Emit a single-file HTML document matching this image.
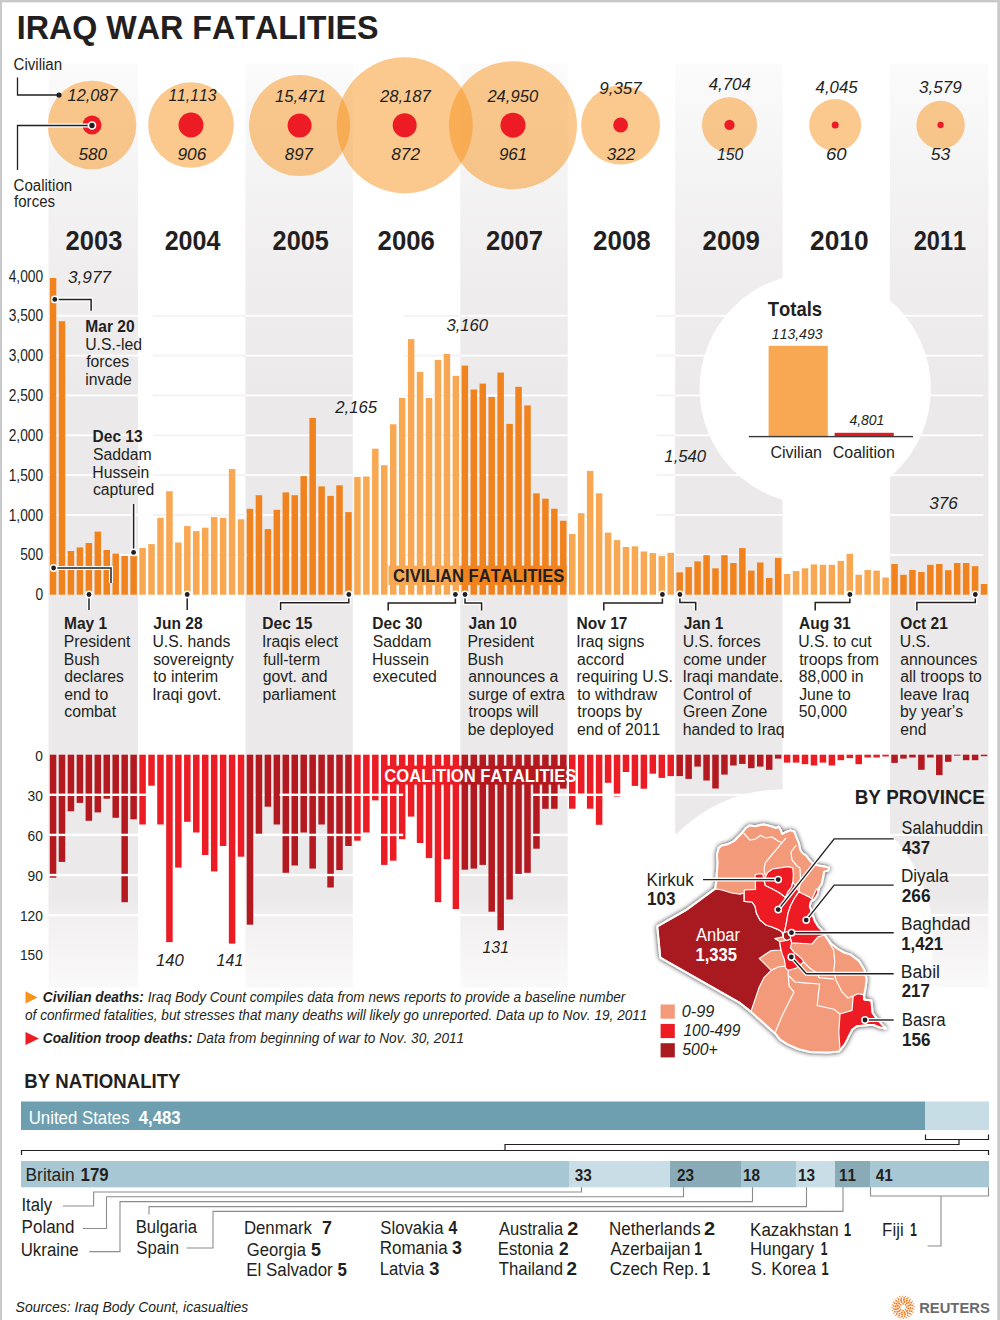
<!DOCTYPE html><html><head><meta charset="utf-8"><title>Iraq War Fatalities</title>
<style>html,body{margin:0;padding:0;background:#fff}svg{display:block}text{font-family:"Liberation Sans",sans-serif;font-kerning:none}</style></head><body>
<svg width="1000" height="1320" viewBox="0 0 1000 1320" fill="#231f20">
<defs><linearGradient id="sg" x1="0" y1="63" x2="0" y2="990" gradientUnits="userSpaceOnUse"><stop offset="0" stop-color="#fbfbfb"/><stop offset="0.2287" stop-color="#efedee"/><stop offset="0.37" stop-color="#ebe9ea"/><stop offset="0.9" stop-color="#ebe9ea"/><stop offset="0.925" stop-color="#f2f0f1"/><stop offset="1" stop-color="#fbfafb"/></linearGradient><filter id="mapsh" x="-20%" y="-20%" width="140%" height="140%"><feGaussianBlur in="SourceAlpha" stdDeviation="2.8"/><feComponentTransfer><feFuncA type="linear" slope="0.85"/></feComponentTransfer><feMerge><feMergeNode/><feMergeNode in="SourceGraphic"/></feMerge></filter></defs>
<rect x="0" y="0" width="1000" height="1320" fill="#fff"/>
<rect x="48.50" y="63.5" width="89.52" height="924" fill="url(#sg)"/>
<rect x="245.44" y="63.5" width="107.42" height="924" fill="url(#sg)"/>
<rect x="460.29" y="63.5" width="107.42" height="924" fill="url(#sg)"/>
<rect x="675.14" y="63.5" width="107.42" height="924" fill="url(#sg)"/>
<rect x="889.99" y="63.5" width="98.47" height="924" fill="url(#sg)"/>
<rect x="48.50" y="553.95" width="89.52" height="1.8" fill="#fff"/>
<rect x="245.44" y="553.95" width="107.42" height="1.8" fill="#fff"/>
<rect x="460.29" y="553.95" width="107.42" height="1.8" fill="#fff"/>
<rect x="675.14" y="553.95" width="107.42" height="1.8" fill="#fff"/>
<rect x="889.99" y="553.95" width="93.51" height="1.8" fill="#fff"/>
<rect x="48.50" y="514.10" width="89.52" height="1.8" fill="#fff"/>
<rect x="245.44" y="514.10" width="107.42" height="1.8" fill="#fff"/>
<rect x="460.29" y="514.10" width="107.42" height="1.8" fill="#fff"/>
<rect x="675.14" y="514.10" width="107.42" height="1.8" fill="#fff"/>
<rect x="889.99" y="514.10" width="93.51" height="1.8" fill="#fff"/>
<rect x="48.50" y="474.25" width="89.52" height="1.8" fill="#fff"/>
<rect x="245.44" y="474.25" width="107.42" height="1.8" fill="#fff"/>
<rect x="460.29" y="474.25" width="107.42" height="1.8" fill="#fff"/>
<rect x="675.14" y="474.25" width="107.42" height="1.8" fill="#fff"/>
<rect x="889.99" y="474.25" width="93.51" height="1.8" fill="#fff"/>
<rect x="48.50" y="434.40" width="89.52" height="1.8" fill="#fff"/>
<rect x="245.44" y="434.40" width="107.42" height="1.8" fill="#fff"/>
<rect x="460.29" y="434.40" width="107.42" height="1.8" fill="#fff"/>
<rect x="675.14" y="434.40" width="107.42" height="1.8" fill="#fff"/>
<rect x="889.99" y="434.40" width="93.51" height="1.8" fill="#fff"/>
<rect x="48.50" y="394.55" width="89.52" height="1.8" fill="#fff"/>
<rect x="245.44" y="394.55" width="107.42" height="1.8" fill="#fff"/>
<rect x="460.29" y="394.55" width="107.42" height="1.8" fill="#fff"/>
<rect x="675.14" y="394.55" width="107.42" height="1.8" fill="#fff"/>
<rect x="889.99" y="394.55" width="93.51" height="1.8" fill="#fff"/>
<rect x="48.50" y="354.70" width="89.52" height="1.8" fill="#fff"/>
<rect x="245.44" y="354.70" width="107.42" height="1.8" fill="#fff"/>
<rect x="460.29" y="354.70" width="107.42" height="1.8" fill="#fff"/>
<rect x="675.14" y="354.70" width="107.42" height="1.8" fill="#fff"/>
<rect x="889.99" y="354.70" width="93.51" height="1.8" fill="#fff"/>
<rect x="48.50" y="314.85" width="89.52" height="1.8" fill="#fff"/>
<rect x="245.44" y="314.85" width="107.42" height="1.8" fill="#fff"/>
<rect x="460.29" y="314.85" width="107.42" height="1.8" fill="#fff"/>
<rect x="675.14" y="314.85" width="107.42" height="1.8" fill="#fff"/>
<rect x="889.99" y="314.85" width="93.51" height="1.8" fill="#fff"/>
<rect x="152.8" y="554.05" width="92.60" height="1.6" fill="#f1f1f1"/>
<rect x="404" y="554.05" width="56.30" height="1.6" fill="#f1f1f1"/>
<rect x="656.5" y="554.05" width="18.60" height="1.6" fill="#f1f1f1"/>
<rect x="152.8" y="514.20" width="92.60" height="1.6" fill="#f1f1f1"/>
<rect x="404" y="514.20" width="56.30" height="1.6" fill="#f1f1f1"/>
<rect x="656.5" y="514.20" width="18.60" height="1.6" fill="#f1f1f1"/>
<rect x="152.8" y="474.35" width="92.60" height="1.6" fill="#f1f1f1"/>
<rect x="404" y="474.35" width="56.30" height="1.6" fill="#f1f1f1"/>
<rect x="656.5" y="474.35" width="18.60" height="1.6" fill="#f1f1f1"/>
<rect x="152.8" y="434.50" width="92.60" height="1.6" fill="#f1f1f1"/>
<rect x="404" y="434.50" width="56.30" height="1.6" fill="#f1f1f1"/>
<rect x="656.5" y="434.50" width="18.60" height="1.6" fill="#f1f1f1"/>
<rect x="152.8" y="394.65" width="92.60" height="1.6" fill="#f1f1f1"/>
<rect x="404" y="394.65" width="56.30" height="1.6" fill="#f1f1f1"/>
<rect x="656.5" y="394.65" width="18.60" height="1.6" fill="#f1f1f1"/>
<rect x="152.8" y="354.80" width="92.60" height="1.6" fill="#f1f1f1"/>
<rect x="404" y="354.80" width="56.30" height="1.6" fill="#f1f1f1"/>
<rect x="656.5" y="354.80" width="18.60" height="1.6" fill="#f1f1f1"/>
<rect x="152.8" y="314.95" width="92.60" height="1.6" fill="#f1f1f1"/>
<rect x="404" y="314.95" width="56.30" height="1.6" fill="#f1f1f1"/>
<rect x="656.5" y="314.95" width="18.60" height="1.6" fill="#f1f1f1"/>
<rect x="48.50" y="793.71" width="89.52" height="2.2" fill="#fff"/>
<rect x="254.20" y="793.71" width="98.67" height="2.2" fill="#fff"/>
<rect x="532.60" y="793.71" width="35.12" height="2.2" fill="#fff"/>
<rect x="675.14" y="793.71" width="107.42" height="2.2" fill="#fff"/>
<rect x="889.99" y="793.71" width="98.47" height="2.2" fill="#fff"/>
<rect x="48.50" y="833.82" width="89.52" height="2.2" fill="#fff"/>
<rect x="254.20" y="833.82" width="98.67" height="2.2" fill="#fff"/>
<rect x="532.60" y="833.82" width="35.12" height="2.2" fill="#fff"/>
<rect x="675.14" y="833.82" width="107.42" height="2.2" fill="#fff"/>
<rect x="889.99" y="833.82" width="98.47" height="2.2" fill="#fff"/>
<rect x="48.50" y="873.93" width="89.52" height="2.2" fill="#fff"/>
<rect x="254.20" y="873.93" width="98.67" height="2.2" fill="#fff"/>
<rect x="460.29" y="873.93" width="107.42" height="2.2" fill="#fff"/>
<rect x="675.14" y="873.93" width="107.42" height="2.2" fill="#fff"/>
<rect x="889.99" y="873.93" width="98.47" height="2.2" fill="#fff"/>
<rect x="48.50" y="914.04" width="89.52" height="2.2" fill="#fff"/>
<rect x="254.20" y="914.04" width="98.67" height="2.2" fill="#fff"/>
<rect x="460.29" y="914.04" width="107.42" height="2.2" fill="#fff"/>
<rect x="675.14" y="914.04" width="107.42" height="2.2" fill="#fff"/>
<rect x="889.99" y="914.04" width="98.47" height="2.2" fill="#fff"/>
<circle cx="783.4" cy="939" r="149.8" fill="#fff"/>
<circle cx="815.2" cy="388.8" r="115.7" fill="#fff"/>
<rect x="49.80" y="278.00" width="6.5" height="316.70" fill="#f1831f"/><rect x="58.75" y="321.20" width="6.5" height="273.50" fill="#f1831f"/><rect x="67.70" y="551.00" width="6.5" height="43.70" fill="#f1831f"/><rect x="76.66" y="547.40" width="6.5" height="47.30" fill="#f1831f"/><rect x="85.61" y="543.00" width="6.5" height="51.70" fill="#f1831f"/><rect x="94.56" y="531.60" width="6.5" height="63.10" fill="#f1831f"/><rect x="103.51" y="550.00" width="6.5" height="44.70" fill="#f1831f"/><rect x="112.46" y="553.60" width="6.5" height="41.10" fill="#f1831f"/><rect x="121.42" y="556.00" width="6.5" height="38.70" fill="#f1831f"/><rect x="130.37" y="555.70" width="6.5" height="39.00" fill="#f1831f"/><rect x="139.32" y="547.90" width="6.5" height="46.80" fill="#f8a752"/><rect x="148.27" y="544.10" width="6.5" height="50.60" fill="#f8a752"/><rect x="157.22" y="517.90" width="6.5" height="76.80" fill="#f8a752"/><rect x="166.18" y="491.20" width="6.5" height="103.50" fill="#f8a752"/><rect x="175.13" y="542.50" width="6.5" height="52.20" fill="#f8a752"/><rect x="184.08" y="526.10" width="6.5" height="68.60" fill="#f8a752"/><rect x="193.03" y="531.10" width="6.5" height="63.60" fill="#f8a752"/><rect x="201.98" y="527.70" width="6.5" height="67.00" fill="#f8a752"/><rect x="210.94" y="517.10" width="6.5" height="77.60" fill="#f8a752"/><rect x="219.89" y="517.90" width="6.5" height="76.80" fill="#f8a752"/><rect x="228.84" y="469.10" width="6.5" height="125.60" fill="#f8a752"/><rect x="237.79" y="519.30" width="6.5" height="75.40" fill="#f8a752"/><rect x="246.74" y="508.80" width="6.5" height="85.90" fill="#f1831f"/><rect x="255.70" y="495.20" width="6.5" height="99.50" fill="#f1831f"/><rect x="264.65" y="529.10" width="6.5" height="65.60" fill="#f1831f"/><rect x="273.60" y="509.80" width="6.5" height="84.90" fill="#f1831f"/><rect x="282.55" y="492.40" width="6.5" height="102.30" fill="#f1831f"/><rect x="291.50" y="495.20" width="6.5" height="99.50" fill="#f1831f"/><rect x="300.46" y="476.10" width="6.5" height="118.60" fill="#f1831f"/><rect x="309.41" y="417.90" width="6.5" height="176.80" fill="#f1831f"/><rect x="318.36" y="486.40" width="6.5" height="108.30" fill="#f1831f"/><rect x="327.31" y="495.90" width="6.5" height="98.80" fill="#f1831f"/><rect x="336.26" y="485.30" width="6.5" height="109.40" fill="#f1831f"/><rect x="345.22" y="512.10" width="6.5" height="82.60" fill="#f1831f"/><rect x="354.17" y="476.90" width="6.5" height="117.80" fill="#f8a752"/><rect x="363.12" y="476.50" width="6.5" height="118.20" fill="#f8a752"/><rect x="372.07" y="448.70" width="6.5" height="146.00" fill="#f8a752"/><rect x="381.02" y="465.20" width="6.5" height="129.50" fill="#f8a752"/><rect x="389.98" y="424.30" width="6.5" height="170.40" fill="#f8a752"/><rect x="398.93" y="398.00" width="6.5" height="196.70" fill="#f8a752"/><rect x="407.88" y="339.10" width="6.5" height="255.60" fill="#f8a752"/><rect x="416.83" y="371.90" width="6.5" height="222.80" fill="#f8a752"/><rect x="425.78" y="398.00" width="6.5" height="196.70" fill="#f8a752"/><rect x="434.74" y="359.90" width="6.5" height="234.80" fill="#f8a752"/><rect x="443.69" y="353.90" width="6.5" height="240.80" fill="#f8a752"/><rect x="452.64" y="375.80" width="6.5" height="218.90" fill="#f8a752"/><rect x="461.59" y="365.60" width="6.5" height="229.10" fill="#f1831f"/><rect x="470.54" y="389.50" width="6.5" height="205.20" fill="#f1831f"/><rect x="479.50" y="383.60" width="6.5" height="211.10" fill="#f1831f"/><rect x="488.45" y="397.00" width="6.5" height="197.70" fill="#f1831f"/><rect x="497.40" y="372.60" width="6.5" height="222.10" fill="#f1831f"/><rect x="506.35" y="423.90" width="6.5" height="170.80" fill="#f1831f"/><rect x="515.30" y="386.80" width="6.5" height="207.90" fill="#f1831f"/><rect x="524.26" y="405.40" width="6.5" height="189.30" fill="#f1831f"/><rect x="533.21" y="493.40" width="6.5" height="101.30" fill="#f1831f"/><rect x="542.16" y="498.70" width="6.5" height="96.00" fill="#f1831f"/><rect x="551.11" y="508.70" width="6.5" height="86.00" fill="#f1831f"/><rect x="560.06" y="520.80" width="6.5" height="73.90" fill="#f1831f"/><rect x="569.02" y="534.00" width="6.5" height="60.70" fill="#f8a752"/><rect x="577.97" y="513.20" width="6.5" height="81.50" fill="#f8a752"/><rect x="586.92" y="470.90" width="6.5" height="123.80" fill="#f8a752"/><rect x="595.87" y="493.30" width="6.5" height="101.40" fill="#f8a752"/><rect x="604.82" y="532.60" width="6.5" height="62.10" fill="#f8a752"/><rect x="613.78" y="540.10" width="6.5" height="54.60" fill="#f8a752"/><rect x="622.73" y="547.00" width="6.5" height="47.70" fill="#f8a752"/><rect x="631.68" y="546.30" width="6.5" height="48.40" fill="#f8a752"/><rect x="640.63" y="551.50" width="6.5" height="43.20" fill="#f8a752"/><rect x="649.58" y="553.10" width="6.5" height="41.60" fill="#f8a752"/><rect x="658.54" y="556.10" width="6.5" height="38.60" fill="#f8a752"/><rect x="667.49" y="552.80" width="6.5" height="41.90" fill="#f8a752"/><rect x="676.44" y="572.40" width="6.5" height="22.30" fill="#f1831f"/><rect x="685.39" y="567.10" width="6.5" height="27.60" fill="#f1831f"/><rect x="694.34" y="561.40" width="6.5" height="33.30" fill="#f1831f"/><rect x="703.30" y="555.20" width="6.5" height="39.50" fill="#f1831f"/><rect x="712.25" y="568.30" width="6.5" height="26.40" fill="#f1831f"/><rect x="721.20" y="555.20" width="6.5" height="39.50" fill="#f1831f"/><rect x="730.15" y="563.00" width="6.5" height="31.70" fill="#f1831f"/><rect x="739.10" y="548.10" width="6.5" height="46.60" fill="#f1831f"/><rect x="748.06" y="570.60" width="6.5" height="24.10" fill="#f1831f"/><rect x="757.01" y="562.50" width="6.5" height="32.20" fill="#f1831f"/><rect x="765.96" y="578.00" width="6.5" height="16.70" fill="#f1831f"/><rect x="774.91" y="557.90" width="6.5" height="36.80" fill="#f1831f"/><rect x="783.86" y="574.00" width="6.5" height="20.70" fill="#f8a752"/><rect x="792.82" y="571.10" width="6.5" height="23.60" fill="#f8a752"/><rect x="801.77" y="568.30" width="6.5" height="26.40" fill="#f8a752"/><rect x="810.72" y="564.40" width="6.5" height="30.30" fill="#f8a752"/><rect x="819.67" y="564.80" width="6.5" height="29.90" fill="#f8a752"/><rect x="828.62" y="564.80" width="6.5" height="29.90" fill="#f8a752"/><rect x="837.58" y="560.90" width="6.5" height="33.80" fill="#f8a752"/><rect x="846.53" y="553.80" width="6.5" height="40.90" fill="#f8a752"/><rect x="855.48" y="574.70" width="6.5" height="20.00" fill="#f8a752"/><rect x="864.43" y="569.90" width="6.5" height="24.80" fill="#f8a752"/><rect x="873.38" y="570.60" width="6.5" height="24.10" fill="#f8a752"/><rect x="882.34" y="577.50" width="6.5" height="17.20" fill="#f8a752"/><rect x="891.29" y="564.00" width="6.5" height="30.70" fill="#f1831f"/><rect x="900.24" y="574.80" width="6.5" height="19.90" fill="#f1831f"/><rect x="909.19" y="570.00" width="6.5" height="24.70" fill="#f1831f"/><rect x="918.14" y="572.00" width="6.5" height="22.70" fill="#f1831f"/><rect x="927.10" y="564.80" width="6.5" height="29.90" fill="#f1831f"/><rect x="936.05" y="564.00" width="6.5" height="30.70" fill="#f1831f"/><rect x="945.00" y="570.20" width="6.5" height="24.50" fill="#f1831f"/><rect x="953.95" y="563.00" width="6.5" height="31.70" fill="#f1831f"/><rect x="962.90" y="563.00" width="6.5" height="31.70" fill="#f1831f"/><rect x="971.86" y="566.20" width="6.5" height="28.50" fill="#f1831f"/><rect x="980.81" y="584.00" width="6.5" height="10.70" fill="#f1831f"/>
<rect x="388.50" y="565.6" width="71.89" height="19.4" fill="#f8a752"/>
<rect x="460.29" y="565.6" width="106.27" height="19.4" fill="#f1831f"/>
<text x="393.12" y="582.00" font-size="18.5" font-weight="bold" textLength="171.13" lengthAdjust="spacingAndGlyphs">CIVILIAN FATALITIES</text>
<rect x="49.80" y="754.70" width="6.5" height="123.00" fill="#b3191f"/><rect x="58.75" y="754.70" width="6.5" height="107.20" fill="#b3191f"/><rect x="67.70" y="754.70" width="6.5" height="56.60" fill="#b3191f"/><rect x="76.66" y="754.70" width="6.5" height="48.20" fill="#b3191f"/><rect x="85.61" y="754.70" width="6.5" height="66.10" fill="#b3191f"/><rect x="94.56" y="754.70" width="6.5" height="57.70" fill="#b3191f"/><rect x="103.51" y="754.70" width="6.5" height="44.00" fill="#b3191f"/><rect x="112.46" y="754.70" width="6.5" height="63.10" fill="#b3191f"/><rect x="121.42" y="754.70" width="6.5" height="147.50" fill="#b3191f"/><rect x="130.37" y="754.70" width="6.5" height="64.60" fill="#b3191f"/><rect x="139.32" y="754.70" width="6.5" height="69.80" fill="#ec1c24"/><rect x="148.27" y="754.70" width="6.5" height="31.00" fill="#ec1c24"/><rect x="157.22" y="754.70" width="6.5" height="69.80" fill="#ec1c24"/><rect x="166.18" y="754.70" width="6.5" height="187.40" fill="#ec1c24"/><rect x="175.13" y="754.70" width="6.5" height="112.90" fill="#ec1c24"/><rect x="184.08" y="754.70" width="6.5" height="67.10" fill="#ec1c24"/><rect x="193.03" y="754.70" width="6.5" height="77.80" fill="#ec1c24"/><rect x="201.98" y="754.70" width="6.5" height="100.30" fill="#ec1c24"/><rect x="210.94" y="754.70" width="6.5" height="116.70" fill="#ec1c24"/><rect x="219.89" y="754.70" width="6.5" height="91.30" fill="#ec1c24"/><rect x="228.84" y="754.70" width="6.5" height="188.90" fill="#ec1c24"/><rect x="237.79" y="754.70" width="6.5" height="102.00" fill="#ec1c24"/><rect x="246.74" y="754.70" width="6.5" height="170.00" fill="#b3191f"/><rect x="255.70" y="754.70" width="6.5" height="80.30" fill="#b3191f"/><rect x="264.65" y="754.70" width="6.5" height="52.00" fill="#b3191f"/><rect x="273.60" y="754.70" width="6.5" height="69.80" fill="#b3191f"/><rect x="282.55" y="754.70" width="6.5" height="118.10" fill="#b3191f"/><rect x="291.50" y="754.70" width="6.5" height="110.80" fill="#b3191f"/><rect x="300.46" y="754.70" width="6.5" height="77.80" fill="#b3191f"/><rect x="309.41" y="754.70" width="6.5" height="113.90" fill="#b3191f"/><rect x="318.36" y="754.70" width="6.5" height="69.80" fill="#b3191f"/><rect x="327.31" y="754.70" width="6.5" height="132.80" fill="#b3191f"/><rect x="336.26" y="754.70" width="6.5" height="115.40" fill="#b3191f"/><rect x="345.22" y="754.70" width="6.5" height="91.30" fill="#b3191f"/><rect x="354.17" y="754.70" width="6.5" height="86.00" fill="#ec1c24"/><rect x="363.12" y="754.70" width="6.5" height="77.80" fill="#ec1c24"/><rect x="372.07" y="754.70" width="6.5" height="45.70" fill="#ec1c24"/><rect x="381.02" y="754.70" width="6.5" height="110.20" fill="#ec1c24"/><rect x="389.98" y="754.70" width="6.5" height="106.00" fill="#ec1c24"/><rect x="398.93" y="754.70" width="6.5" height="84.50" fill="#ec1c24"/><rect x="407.88" y="754.70" width="6.5" height="61.90" fill="#ec1c24"/><rect x="416.83" y="754.70" width="6.5" height="88.30" fill="#ec1c24"/><rect x="425.78" y="754.70" width="6.5" height="103.40" fill="#ec1c24"/><rect x="434.74" y="754.70" width="6.5" height="147.50" fill="#ec1c24"/><rect x="443.69" y="754.70" width="6.5" height="104.50" fill="#ec1c24"/><rect x="452.64" y="754.70" width="6.5" height="154.30" fill="#ec1c24"/><rect x="461.59" y="754.70" width="6.5" height="115.00" fill="#b3191f"/><rect x="470.54" y="754.70" width="6.5" height="113.90" fill="#b3191f"/><rect x="479.50" y="754.70" width="6.5" height="110.20" fill="#b3191f"/><rect x="488.45" y="754.70" width="6.5" height="157.00" fill="#b3191f"/><rect x="497.40" y="754.70" width="6.5" height="175.50" fill="#b3191f"/><rect x="506.35" y="754.70" width="6.5" height="144.80" fill="#b3191f"/><rect x="515.30" y="754.70" width="6.5" height="119.20" fill="#b3191f"/><rect x="524.26" y="754.70" width="6.5" height="118.10" fill="#b3191f"/><rect x="533.21" y="754.70" width="6.5" height="94.00" fill="#b3191f"/><rect x="542.16" y="754.70" width="6.5" height="54.10" fill="#b3191f"/><rect x="551.11" y="754.70" width="6.5" height="54.10" fill="#b3191f"/><rect x="560.06" y="754.70" width="6.5" height="33.90" fill="#b3191f"/><rect x="569.02" y="754.70" width="6.5" height="54.00" fill="#ec1c24"/><rect x="577.97" y="754.70" width="6.5" height="39.00" fill="#ec1c24"/><rect x="586.92" y="754.70" width="6.5" height="54.00" fill="#ec1c24"/><rect x="595.87" y="754.70" width="6.5" height="70.10" fill="#ec1c24"/><rect x="604.82" y="754.70" width="6.5" height="28.10" fill="#ec1c24"/><rect x="613.78" y="754.70" width="6.5" height="41.80" fill="#ec1c24"/><rect x="622.73" y="754.70" width="6.5" height="17.30" fill="#ec1c24"/><rect x="631.68" y="754.70" width="6.5" height="31.20" fill="#ec1c24"/><rect x="640.63" y="754.70" width="6.5" height="34.00" fill="#ec1c24"/><rect x="649.58" y="754.70" width="6.5" height="19.00" fill="#ec1c24"/><rect x="658.54" y="754.70" width="6.5" height="23.20" fill="#ec1c24"/><rect x="667.49" y="754.70" width="6.5" height="21.40" fill="#ec1c24"/><rect x="676.44" y="754.70" width="6.5" height="21.40" fill="#b3191f"/><rect x="685.39" y="754.70" width="6.5" height="24.20" fill="#b3191f"/><rect x="694.34" y="754.70" width="6.5" height="11.90" fill="#b3191f"/><rect x="703.30" y="754.70" width="6.5" height="25.80" fill="#b3191f"/><rect x="712.25" y="754.70" width="6.5" height="33.80" fill="#b3191f"/><rect x="721.20" y="754.70" width="6.5" height="19.90" fill="#b3191f"/><rect x="730.15" y="754.70" width="6.5" height="10.80" fill="#b3191f"/><rect x="739.10" y="754.70" width="6.5" height="9.20" fill="#b3191f"/><rect x="748.06" y="754.70" width="6.5" height="13.50" fill="#b3191f"/><rect x="757.01" y="754.70" width="6.5" height="11.90" fill="#b3191f"/><rect x="765.96" y="754.70" width="6.5" height="15.10" fill="#b3191f"/><rect x="774.91" y="754.70" width="6.5" height="3.90" fill="#b3191f"/><rect x="783.86" y="754.70" width="6.5" height="7.90" fill="#ec1c24"/><rect x="792.82" y="754.70" width="6.5" height="7.90" fill="#ec1c24"/><rect x="801.77" y="754.70" width="6.5" height="9.50" fill="#ec1c24"/><rect x="810.72" y="754.70" width="6.5" height="10.80" fill="#ec1c24"/><rect x="819.67" y="754.70" width="6.5" height="7.90" fill="#ec1c24"/><rect x="828.62" y="754.70" width="6.5" height="10.80" fill="#ec1c24"/><rect x="837.58" y="754.70" width="6.5" height="5.50" fill="#ec1c24"/><rect x="846.53" y="754.70" width="6.5" height="3.40" fill="#ec1c24"/><rect x="855.48" y="754.70" width="6.5" height="9.50" fill="#ec1c24"/><rect x="864.43" y="754.70" width="6.5" height="2.80" fill="#ec1c24"/><rect x="873.38" y="754.70" width="6.5" height="2.80" fill="#ec1c24"/><rect x="882.34" y="754.70" width="6.5" height="1.80" fill="#ec1c24"/><rect x="891.29" y="754.70" width="6.5" height="8.20" fill="#b3191f"/><rect x="900.24" y="754.70" width="6.5" height="3.90" fill="#b3191f"/><rect x="909.19" y="754.70" width="6.5" height="2.80" fill="#b3191f"/><rect x="918.14" y="754.70" width="6.5" height="15.10" fill="#b3191f"/><rect x="927.10" y="754.70" width="6.5" height="2.80" fill="#b3191f"/><rect x="936.05" y="754.70" width="6.5" height="20.40" fill="#b3191f"/><rect x="945.00" y="754.70" width="6.5" height="7.10" fill="#b3191f"/><rect x="953.95" y="754.70" width="6.5" height="0.90" fill="#b3191f"/><rect x="962.90" y="754.70" width="6.5" height="5.50" fill="#b3191f"/><rect x="971.86" y="754.70" width="6.5" height="5.50" fill="#b3191f"/><rect x="980.81" y="754.70" width="6.5" height="1.50" fill="#b3191f"/>
<rect x="381.4" y="765.6" width="78.89" height="19" fill="#ec1c24"/>
<rect x="460.29" y="765.6" width="106.27" height="19" fill="#b3191f"/>
<text x="384.32" y="781.90" font-size="18" font-weight="bold" textLength="192.03" lengthAdjust="spacingAndGlyphs" fill="#fff">COALITION FATALITIES</text>
<rect x="48.50" y="793.61" width="98.00" height="2.4" fill="#fff"/>
<rect x="279.60" y="793.61" width="123.60" height="2.4" fill="#fff"/>
<rect x="532.60" y="793.61" width="88.90" height="2.4" fill="#fff"/>
<rect x="48.50" y="833.72" width="89.80" height="2.4" fill="#fff"/>
<rect x="254.20" y="833.72" width="149.00" height="2.4" fill="#fff"/>
<rect x="532.60" y="833.72" width="36.40" height="2.4" fill="#fff"/>
<rect x="48.50" y="873.83" width="89.80" height="2.4" fill="#fff"/>
<rect x="254.20" y="873.83" width="99.30" height="2.4" fill="#fff"/>
<rect x="48.50" y="913.94" width="89.80" height="2.4" fill="#fff"/>
<rect x="254.20" y="913.94" width="99.30" height="2.4" fill="#fff"/>
<text x="16.84" y="38.60" font-size="34" font-weight="bold" textLength="361.61" lengthAdjust="spacingAndGlyphs">IRAQ WAR FATALITIES</text>
<circle cx="92" cy="125" r="44.3" fill="#f7941d" fill-opacity="0.5"/>
<circle cx="191" cy="125" r="42.8" fill="#f7941d" fill-opacity="0.5"/>
<circle cx="299.6" cy="125.5" r="50.5" fill="#f7941d" fill-opacity="0.5"/>
<circle cx="404.7" cy="125.2" r="68" fill="#f7941d" fill-opacity="0.5"/>
<circle cx="513" cy="125.2" r="64" fill="#f7941d" fill-opacity="0.5"/>
<circle cx="620.6" cy="125" r="39.5" fill="#f7941d" fill-opacity="0.5"/>
<circle cx="729.5" cy="124.9" r="27.6" fill="#f7941d" fill-opacity="0.5"/>
<circle cx="835.2" cy="125" r="26" fill="#f7941d" fill-opacity="0.5"/>
<circle cx="940.6" cy="125" r="24.2" fill="#f7941d" fill-opacity="0.5"/>
<circle cx="92" cy="125" r="9.5" fill="#ed1c24"/>
<text x="67.58" y="101.30" font-size="16" font-style="italic" textLength="49.92" lengthAdjust="spacingAndGlyphs">12,087</text>
<text x="78.62" y="160.00" font-size="16" font-style="italic" textLength="28.53" lengthAdjust="spacingAndGlyphs">580</text>
<circle cx="191" cy="125" r="12.5" fill="#ed1c24"/>
<text x="168.39" y="101.30" font-size="16" font-style="italic" textLength="48.04" lengthAdjust="spacingAndGlyphs">11,113</text>
<text x="177.41" y="160.00" font-size="16" font-style="italic" textLength="28.89" lengthAdjust="spacingAndGlyphs">906</text>
<circle cx="299.6" cy="125.5" r="12.0" fill="#ed1c24"/>
<text x="275.07" y="101.80" font-size="16" font-style="italic" textLength="50.83" lengthAdjust="spacingAndGlyphs">15,471</text>
<text x="284.86" y="160.30" font-size="16" font-style="italic" textLength="27.93" lengthAdjust="spacingAndGlyphs">897</text>
<circle cx="404.7" cy="125.2" r="12.0" fill="#ed1c24"/>
<text x="379.90" y="101.80" font-size="16" font-style="italic" textLength="50.89" lengthAdjust="spacingAndGlyphs">28,187</text>
<text x="391.25" y="160.30" font-size="16" font-style="italic" textLength="28.71" lengthAdjust="spacingAndGlyphs">872</text>
<circle cx="513" cy="125.2" r="12.5" fill="#ed1c24"/>
<text x="487.40" y="101.80" font-size="16" font-style="italic" textLength="50.74" lengthAdjust="spacingAndGlyphs">24,950</text>
<text x="498.92" y="160.30" font-size="16" font-style="italic" textLength="28.31" lengthAdjust="spacingAndGlyphs">961</text>
<circle cx="620.6" cy="125" r="7.4" fill="#ed1c24"/>
<text x="599.32" y="94.30" font-size="16" font-style="italic" textLength="42.36" lengthAdjust="spacingAndGlyphs">9,357</text>
<text x="606.70" y="159.50" font-size="16" font-style="italic" textLength="28.55" lengthAdjust="spacingAndGlyphs">322</text>
<circle cx="729.5" cy="124.9" r="5.15" fill="#ed1c24"/>
<text x="708.69" y="90.30" font-size="16" font-style="italic" textLength="42.14" lengthAdjust="spacingAndGlyphs">4,704</text>
<text x="716.99" y="159.50" font-size="16" font-style="italic" textLength="26.14" lengthAdjust="spacingAndGlyphs">150</text>
<circle cx="835.2" cy="125" r="3.5" fill="#ed1c24"/>
<text x="815.59" y="92.80" font-size="16" font-style="italic" textLength="42.07" lengthAdjust="spacingAndGlyphs">4,045</text>
<text x="825.96" y="159.80" font-size="16" font-style="italic" textLength="20.59" lengthAdjust="spacingAndGlyphs">60</text>
<circle cx="940.6" cy="125" r="3.15" fill="#ed1c24"/>
<text x="919.00" y="92.80" font-size="16" font-style="italic" textLength="42.75" lengthAdjust="spacingAndGlyphs">3,579</text>
<text x="930.81" y="159.80" font-size="16" font-style="italic" textLength="19.45" lengthAdjust="spacingAndGlyphs">53</text>
<path d="M17.5 77.5 V95 H59" fill="none" stroke="#231f20" stroke-width="1.3"/>
<circle cx="59" cy="95" r="2.6" fill="#231f20"/>
<path d="M17.5 170 V125.5 H92" fill="none" stroke="#fff" stroke-width="4"/>
<path d="M17.5 170 V125.5 H92" fill="none" stroke="#231f20" stroke-width="1.3"/>
<circle cx="92" cy="125.5" r="4.3" fill="#fff"/><circle cx="92" cy="125.5" r="2.7" fill="#231f20"/>
<text x="13.53" y="70.20" font-size="16" textLength="48.65" lengthAdjust="spacingAndGlyphs">Civilian</text>
<text x="13.53" y="190.50" font-size="16" textLength="58.64" lengthAdjust="spacingAndGlyphs">Coalition</text>
<text x="14.09" y="207.20" font-size="16" textLength="40.96" lengthAdjust="spacingAndGlyphs">forces</text>
<text x="65.62" y="250.30" font-size="28" font-weight="bold" textLength="56.70" lengthAdjust="spacingAndGlyphs">2003</text>
<text x="164.63" y="250.30" font-size="28" font-weight="bold" textLength="55.91" lengthAdjust="spacingAndGlyphs">2004</text>
<text x="272.62" y="250.30" font-size="28" font-weight="bold" textLength="56.18" lengthAdjust="spacingAndGlyphs">2005</text>
<text x="377.61" y="250.30" font-size="28" font-weight="bold" textLength="57.32" lengthAdjust="spacingAndGlyphs">2006</text>
<text x="486.11" y="250.30" font-size="28" font-weight="bold" textLength="57.01" lengthAdjust="spacingAndGlyphs">2007</text>
<text x="593.10" y="250.30" font-size="28" font-weight="bold" textLength="57.70" lengthAdjust="spacingAndGlyphs">2008</text>
<text x="702.61" y="250.30" font-size="28" font-weight="bold" textLength="57.35" lengthAdjust="spacingAndGlyphs">2009</text>
<text x="810.09" y="250.30" font-size="28" font-weight="bold" textLength="58.49" lengthAdjust="spacingAndGlyphs">2010</text>
<text x="913.68" y="250.30" font-size="28" font-weight="bold" textLength="52.47" lengthAdjust="spacingAndGlyphs">2011</text>
<text x="35.48" y="600.30" font-size="16" textLength="7.65" lengthAdjust="spacingAndGlyphs">0</text>
<text x="20.18" y="560.45" font-size="16" textLength="22.96" lengthAdjust="spacingAndGlyphs">500</text>
<text x="8.70" y="520.60" font-size="16" textLength="34.43" lengthAdjust="spacingAndGlyphs">1,000</text>
<text x="8.70" y="480.75" font-size="16" textLength="34.43" lengthAdjust="spacingAndGlyphs">1,500</text>
<text x="8.70" y="440.90" font-size="16" textLength="34.43" lengthAdjust="spacingAndGlyphs">2,000</text>
<text x="8.70" y="401.05" font-size="16" textLength="34.43" lengthAdjust="spacingAndGlyphs">2,500</text>
<text x="8.70" y="361.20" font-size="16" textLength="34.43" lengthAdjust="spacingAndGlyphs">3,000</text>
<text x="8.70" y="321.35" font-size="16" textLength="34.43" lengthAdjust="spacingAndGlyphs">3,500</text>
<text x="8.70" y="281.50" font-size="16" textLength="34.43" lengthAdjust="spacingAndGlyphs">4,000</text>
<text x="35.28" y="760.90" font-size="15.3" textLength="7.66" lengthAdjust="spacingAndGlyphs">0</text>
<text x="27.62" y="801.00" font-size="15.3" textLength="15.32" lengthAdjust="spacingAndGlyphs">30</text>
<text x="27.62" y="841.20" font-size="15.3" textLength="15.32" lengthAdjust="spacingAndGlyphs">60</text>
<text x="27.62" y="881.40" font-size="15.3" textLength="15.32" lengthAdjust="spacingAndGlyphs">90</text>
<text x="19.96" y="921.20" font-size="15.3" textLength="22.97" lengthAdjust="spacingAndGlyphs">120</text>
<text x="19.96" y="960.10" font-size="15.3" textLength="22.97" lengthAdjust="spacingAndGlyphs">150</text>
<text x="68.00" y="282.70" font-size="16" font-style="italic" textLength="43.07" lengthAdjust="spacingAndGlyphs">3,977</text>
<text x="335.30" y="412.80" font-size="16" font-style="italic" textLength="41.86" lengthAdjust="spacingAndGlyphs">2,165</text>
<text x="446.41" y="331.20" font-size="16" font-style="italic" textLength="41.73" lengthAdjust="spacingAndGlyphs">3,160</text>
<text x="664.37" y="462.00" font-size="16" font-style="italic" textLength="41.77" lengthAdjust="spacingAndGlyphs">1,540</text>
<text x="929.20" y="509.00" font-size="16" font-style="italic" textLength="28.60" lengthAdjust="spacingAndGlyphs">376</text>
<path d="M54.8 299.4 H91.1 V310.7" fill="none" stroke="#fff" stroke-width="4.1" stroke-linejoin="miter"/><path d="M54.8 299.4 H91.1 V310.7" fill="none" stroke="#231f20" stroke-width="1.5"/><circle cx="54.8" cy="299.4" r="3.9" fill="#fff"/><circle cx="54.8" cy="299.4" r="2.4" fill="#231f20"/>
<text x="85.36" y="332.30" font-size="16" font-weight="bold" textLength="49.17" lengthAdjust="spacingAndGlyphs">Mar 20</text><text x="85.18" y="349.75" font-size="16" textLength="56.93" lengthAdjust="spacingAndGlyphs">U.S.-led</text><text x="86.18" y="367.20" font-size="16" textLength="42.92" lengthAdjust="spacingAndGlyphs">forces</text><text x="85.35" y="384.65" font-size="16" textLength="46.44" lengthAdjust="spacingAndGlyphs">invade</text>
<path d="M53.6 568 H111 V583" fill="none" stroke="#fff" stroke-width="4.1" stroke-linejoin="miter"/><path d="M53.6 568 H111 V583" fill="none" stroke="#231f20" stroke-width="1.5"/><circle cx="53.6" cy="568" r="3.9" fill="#fff"/><circle cx="53.6" cy="568" r="2.4" fill="#231f20"/>
<path d="M133.6 504 V552.4" fill="none" stroke="#fff" stroke-width="4.1" stroke-linejoin="miter"/><path d="M133.6 504 V552.4" fill="none" stroke="#231f20" stroke-width="1.5"/><circle cx="133.6" cy="552.4" r="3.9" fill="#fff"/><circle cx="133.6" cy="552.4" r="2.4" fill="#231f20"/>
<text x="92.56" y="442.20" font-size="16" font-weight="bold" textLength="50.05" lengthAdjust="spacingAndGlyphs">Dec 13</text><text x="92.88" y="459.85" font-size="16" textLength="58.70" lengthAdjust="spacingAndGlyphs">Saddam</text><text x="92.31" y="477.50" font-size="16" textLength="56.94" lengthAdjust="spacingAndGlyphs">Hussein</text><text x="92.93" y="495.15" font-size="16" textLength="61.33" lengthAdjust="spacingAndGlyphs">captured</text>
<path d="M89 594.5 V610" fill="none" stroke="#fff" stroke-width="4.1" stroke-linejoin="miter"/><path d="M89 594.5 V610" fill="none" stroke="#231f20" stroke-width="1.5"/><circle cx="89" cy="594.5" r="3.9" fill="#fff"/><circle cx="89" cy="594.5" r="2.4" fill="#231f20"/>
<text x="63.96" y="629.40" font-size="16" font-weight="bold" textLength="43.13" lengthAdjust="spacingAndGlyphs">May 1</text><text x="63.71" y="647.00" font-size="16" textLength="66.58" lengthAdjust="spacingAndGlyphs">President</text><text x="63.71" y="664.60" font-size="16" textLength="35.92" lengthAdjust="spacingAndGlyphs">Bush</text><text x="64.34" y="682.20" font-size="16" textLength="59.57" lengthAdjust="spacingAndGlyphs">declares</text><text x="64.33" y="699.80" font-size="16" textLength="43.82" lengthAdjust="spacingAndGlyphs">end to</text><text x="64.33" y="717.40" font-size="16" textLength="51.68" lengthAdjust="spacingAndGlyphs">combat</text>
<path d="M187.2 594.5 V610" fill="none" stroke="#fff" stroke-width="4.1" stroke-linejoin="miter"/><path d="M187.2 594.5 V610" fill="none" stroke="#231f20" stroke-width="1.5"/><circle cx="187.2" cy="594.5" r="3.9" fill="#fff"/><circle cx="187.2" cy="594.5" r="2.4" fill="#231f20"/>
<text x="153.37" y="629.40" font-size="16" font-weight="bold" textLength="49.17" lengthAdjust="spacingAndGlyphs">Jun 28</text><text x="152.38" y="647.00" font-size="16" textLength="77.97" lengthAdjust="spacingAndGlyphs">U.S. hands</text><text x="153.16" y="664.60" font-size="16" textLength="80.59" lengthAdjust="spacingAndGlyphs">sovereignty</text><text x="153.36" y="682.20" font-size="16" textLength="64.81" lengthAdjust="spacingAndGlyphs">to interim</text><text x="152.15" y="699.80" font-size="16" textLength="69.20" lengthAdjust="spacingAndGlyphs">Iraqi govt.</text>
<path d="M348.8 594.5 V602.8 H280.6 V610" fill="none" stroke="#fff" stroke-width="4.1" stroke-linejoin="miter"/><path d="M348.8 594.5 V602.8 H280.6 V610" fill="none" stroke="#231f20" stroke-width="1.5"/><circle cx="348.8" cy="594.5" r="3.9" fill="#fff"/><circle cx="348.8" cy="594.5" r="2.4" fill="#231f20"/>
<text x="262.36" y="629.40" font-size="16" font-weight="bold" textLength="50.05" lengthAdjust="spacingAndGlyphs">Dec 15</text><text x="261.95" y="647.00" font-size="16" textLength="76.21" lengthAdjust="spacingAndGlyphs">Iraqis elect</text><text x="263.18" y="664.60" font-size="16" textLength="56.91" lengthAdjust="spacingAndGlyphs">full-term</text><text x="262.74" y="682.20" font-size="16" textLength="64.84" lengthAdjust="spacingAndGlyphs">govt. and</text><text x="262.38" y="699.80" font-size="16" textLength="73.58" lengthAdjust="spacingAndGlyphs">parliament</text>
<path d="M455.4 594.5 V603 H388.2 V610.4" fill="none" stroke="#fff" stroke-width="4.1" stroke-linejoin="miter"/><path d="M455.4 594.5 V603 H388.2 V610.4" fill="none" stroke="#231f20" stroke-width="1.5"/><circle cx="455.4" cy="594.5" r="3.9" fill="#fff"/><circle cx="455.4" cy="594.5" r="2.4" fill="#231f20"/>
<text x="372.36" y="629.40" font-size="16" font-weight="bold" textLength="50.05" lengthAdjust="spacingAndGlyphs">Dec 30</text><text x="372.68" y="647.00" font-size="16" textLength="58.70" lengthAdjust="spacingAndGlyphs">Saddam</text><text x="372.11" y="664.60" font-size="16" textLength="56.94" lengthAdjust="spacingAndGlyphs">Hussein</text><text x="372.73" y="682.20" font-size="16" textLength="63.96" lengthAdjust="spacingAndGlyphs">executed</text>
<path d="M465 594.5 V603 H481.6 V610.4" fill="none" stroke="#fff" stroke-width="4.1" stroke-linejoin="miter"/><path d="M465 594.5 V603 H481.6 V610.4" fill="none" stroke="#231f20" stroke-width="1.5"/><circle cx="465" cy="594.5" r="3.9" fill="#fff"/><circle cx="465" cy="594.5" r="2.4" fill="#231f20"/>
<text x="468.57" y="629.40" font-size="16" font-weight="bold" textLength="48.32" lengthAdjust="spacingAndGlyphs">Jan 10</text><text x="467.51" y="647.00" font-size="16" textLength="66.58" lengthAdjust="spacingAndGlyphs">President</text><text x="467.51" y="664.60" font-size="16" textLength="35.92" lengthAdjust="spacingAndGlyphs">Bush</text><text x="468.13" y="682.20" font-size="16" textLength="90.26" lengthAdjust="spacingAndGlyphs">announces a</text><text x="468.36" y="699.80" font-size="16" textLength="96.36" lengthAdjust="spacingAndGlyphs">surge of extra</text><text x="468.56" y="717.40" font-size="16" textLength="70.07" lengthAdjust="spacingAndGlyphs">troops will</text><text x="467.78" y="735.00" font-size="16" textLength="85.88" lengthAdjust="spacingAndGlyphs">be deployed</text>
<path d="M662.4 594.5 V603 H603.8 V610.4" fill="none" stroke="#fff" stroke-width="4.1" stroke-linejoin="miter"/><path d="M662.4 594.5 V603 H603.8 V610.4" fill="none" stroke="#231f20" stroke-width="1.5"/><circle cx="662.4" cy="594.5" r="3.9" fill="#fff"/><circle cx="662.4" cy="594.5" r="2.4" fill="#231f20"/>
<text x="576.56" y="629.40" font-size="16" font-weight="bold" textLength="50.89" lengthAdjust="spacingAndGlyphs">Nov 17</text><text x="576.15" y="647.00" font-size="16" textLength="68.33" lengthAdjust="spacingAndGlyphs">Iraq signs</text><text x="576.93" y="664.60" font-size="16" textLength="47.30" lengthAdjust="spacingAndGlyphs">accord</text><text x="576.55" y="682.20" font-size="16" textLength="96.35" lengthAdjust="spacingAndGlyphs">requiring U.S.</text><text x="577.36" y="699.80" font-size="16" textLength="79.71" lengthAdjust="spacingAndGlyphs">to withdraw</text><text x="577.36" y="717.40" font-size="16" textLength="64.83" lengthAdjust="spacingAndGlyphs">troops by</text><text x="576.93" y="735.00" font-size="16" textLength="83.26" lengthAdjust="spacingAndGlyphs">end of 2011</text>
<path d="M679.9 594.5 V602.4 H695.7 V610.4" fill="none" stroke="#fff" stroke-width="4.1" stroke-linejoin="miter"/><path d="M679.9 594.5 V602.4 H695.7 V610.4" fill="none" stroke="#231f20" stroke-width="1.5"/><circle cx="679.9" cy="594.5" r="3.9" fill="#fff"/><circle cx="679.9" cy="594.5" r="2.4" fill="#231f20"/>
<text x="683.67" y="629.40" font-size="16" font-weight="bold" textLength="39.69" lengthAdjust="spacingAndGlyphs">Jan 1</text><text x="682.68" y="647.00" font-size="16" textLength="77.95" lengthAdjust="spacingAndGlyphs">U.S. forces</text><text x="683.23" y="664.60" font-size="16" textLength="83.22" lengthAdjust="spacingAndGlyphs">come under</text><text x="682.45" y="682.20" font-size="16" textLength="100.75" lengthAdjust="spacingAndGlyphs">Iraqi mandate.</text><text x="683.10" y="699.80" font-size="16" textLength="68.33" lengthAdjust="spacingAndGlyphs">Control of</text><text x="683.11" y="717.40" font-size="16" textLength="84.10" lengthAdjust="spacingAndGlyphs">Green Zone</text><text x="682.81" y="735.00" font-size="16" textLength="101.65" lengthAdjust="spacingAndGlyphs">handed to Iraq</text>
<path d="M849.9 594.5 V602.4 H815.2 V610.4" fill="none" stroke="#fff" stroke-width="4.1" stroke-linejoin="miter"/><path d="M849.9 594.5 V602.4 H815.2 V610.4" fill="none" stroke="#231f20" stroke-width="1.5"/><circle cx="849.9" cy="594.5" r="3.9" fill="#fff"/><circle cx="849.9" cy="594.5" r="2.4" fill="#231f20"/>
<text x="799.01" y="629.40" font-size="16" font-weight="bold" textLength="51.74" lengthAdjust="spacingAndGlyphs">Aug 31</text><text x="798.18" y="647.00" font-size="16" textLength="73.57" lengthAdjust="spacingAndGlyphs">U.S. to cut</text><text x="799.16" y="664.60" font-size="16" textLength="79.70" lengthAdjust="spacingAndGlyphs">troops from</text><text x="798.72" y="682.20" font-size="16" textLength="64.85" lengthAdjust="spacingAndGlyphs">88,000 in</text><text x="799.15" y="699.80" font-size="16" textLength="51.70" lengthAdjust="spacingAndGlyphs">June to</text><text x="798.77" y="717.40" font-size="16" textLength="48.20" lengthAdjust="spacingAndGlyphs">50,000</text>
<path d="M975.3 594.5 V602.4 H916.9 V610.4" fill="none" stroke="#fff" stroke-width="4.1" stroke-linejoin="miter"/><path d="M975.3 594.5 V602.4 H916.9 V610.4" fill="none" stroke="#231f20" stroke-width="1.5"/><circle cx="975.3" cy="594.5" r="3.9" fill="#fff"/><circle cx="975.3" cy="594.5" r="2.4" fill="#231f20"/>
<text x="900.36" y="629.40" font-size="16" font-weight="bold" textLength="47.45" lengthAdjust="spacingAndGlyphs">Oct 21</text><text x="899.78" y="647.00" font-size="16" textLength="30.65" lengthAdjust="spacingAndGlyphs">U.S.</text><text x="900.33" y="664.60" font-size="16" textLength="77.11" lengthAdjust="spacingAndGlyphs">announces</text><text x="900.33" y="682.20" font-size="16" textLength="81.47" lengthAdjust="spacingAndGlyphs">all troops to</text><text x="899.94" y="699.80" font-size="16" textLength="69.21" lengthAdjust="spacingAndGlyphs">leave Iraq</text><text x="899.98" y="717.40" font-size="16" textLength="63.06" lengthAdjust="spacingAndGlyphs">by year’s</text><text x="900.33" y="735.00" font-size="16" textLength="26.29" lengthAdjust="spacingAndGlyphs">end</text>
<text x="155.97" y="966.30" font-size="16" font-style="italic" textLength="27.77" lengthAdjust="spacingAndGlyphs">140</text>
<text x="216.58" y="966.00" font-size="16" font-style="italic">141</text>
<text x="482.59" y="953.30" font-size="16" font-style="italic" textLength="26.34" lengthAdjust="spacingAndGlyphs">131</text>
<text x="767.79" y="316.00" font-size="21" font-weight="bold" textLength="54.36" lengthAdjust="spacingAndGlyphs">Totals</text>
<text x="771.84" y="339.40" font-size="15" font-style="italic" textLength="50.69" lengthAdjust="spacingAndGlyphs">113,493</text>
<rect x="768.6" y="345.8" width="59.2" height="90.4" fill="#f8a752"/>
<rect x="834.6" y="432.8" width="59.2" height="3.6" fill="#e31b23"/>
<rect x="748.8" y="435.9" width="164.2" height="1.4" fill="#3a3a3a"/>
<text x="849.51" y="425.40" font-size="15" font-style="italic" textLength="34.87" lengthAdjust="spacingAndGlyphs">4,801</text>
<text x="770.39" y="457.80" font-size="16">Civilian</text>
<text x="832.79" y="457.80" font-size="16" textLength="62.05" lengthAdjust="spacingAndGlyphs">Coalition</text>
<path d="M25.5 991.3 L37.6 997.4 L25.5 1003.5 Z" fill="#f7941d"/>
<path d="M25.5 1032 L39 1038.5 L25.5 1045 Z" fill="#ed1c24"/>
<text x="42.83" y="1001.50" font-size="15" font-weight="bold" font-style="italic" textLength="101.10" lengthAdjust="spacingAndGlyphs">Civilian deaths:</text>
<text x="147.80" y="1001.50" font-size="15" font-style="italic" textLength="477.54" lengthAdjust="spacingAndGlyphs">Iraq Body Count compiles data from news reports to provide a baseline number</text>
<text x="25.05" y="1019.60" font-size="15" font-style="italic" textLength="622.40" lengthAdjust="spacingAndGlyphs">of confirmed fatalities, but stresses that many deaths will likely go unreported. Data up to Nov. 19, 2011</text>
<text x="42.83" y="1043.30" font-size="15" font-weight="bold" font-style="italic" textLength="149.71" lengthAdjust="spacingAndGlyphs">Coalition troop deaths:</text>
<text x="196.53" y="1043.30" font-size="15" font-style="italic" textLength="267.62" lengthAdjust="spacingAndGlyphs">Data from beginning of war to Nov. 30, 2011</text>
<text x="24.25" y="1087.80" font-size="20.5" font-weight="bold" textLength="156.25" lengthAdjust="spacingAndGlyphs">BY NATIONALITY</text>
<rect x="21" y="1101.5" width="904" height="28.5" fill="#6d9fb0"/>
<rect x="925" y="1101.5" width="64" height="28.5" fill="#c7dde6"/>
<text x="28.70" y="1124.00" font-size="18" textLength="100.90" lengthAdjust="spacingAndGlyphs" fill="#fff">United States</text>
<text x="138.75" y="1124.00" font-size="18" font-weight="bold" textLength="41.86" lengthAdjust="spacingAndGlyphs" fill="#fff">4,483</text>
<path d="M925.5 1134.5 V1139.5 H988.5 V1134.5 M959 1139.5 V1144.5 H505 V1150.5 M21.5 1155 V1150.5 H988.5 V1155" fill="none" stroke="#231f20" stroke-width="1.2"/>
<rect x="21" y="1161" width="548" height="26.3" fill="#a8c7d4"/>
<rect x="569" y="1161" width="101" height="26.3" fill="#c8dde6"/>
<rect x="670" y="1161" width="71" height="26.3" fill="#89abb8"/>
<rect x="741" y="1161" width="55" height="26.3" fill="#a8c7d4"/>
<rect x="796" y="1161" width="39" height="26.3" fill="#c8dde6"/>
<rect x="835" y="1161" width="35" height="26.3" fill="#89abb8"/>
<rect x="870" y="1161" width="119" height="26.3" fill="#a8c7d4"/>
<text x="25.58" y="1181.40" font-size="18" textLength="49.04" lengthAdjust="spacingAndGlyphs">Britain</text>
<text x="80.54" y="1181.40" font-size="18" font-weight="bold" textLength="28.08" lengthAdjust="spacingAndGlyphs">179</text>
<text x="574.65" y="1181.40" font-size="17" font-weight="bold" textLength="17.02" lengthAdjust="spacingAndGlyphs">33</text>
<text x="676.97" y="1181.40" font-size="17" font-weight="bold" textLength="17.02" lengthAdjust="spacingAndGlyphs">23</text>
<text x="743.04" y="1181.40" font-size="17" font-weight="bold" textLength="17.02" lengthAdjust="spacingAndGlyphs">18</text>
<text x="798.04" y="1181.40" font-size="17" font-weight="bold" textLength="17.02" lengthAdjust="spacingAndGlyphs">13</text>
<text x="839.04" y="1181.40" font-size="17" font-weight="bold" textLength="17.02" lengthAdjust="spacingAndGlyphs">11</text>
<text x="875.77" y="1181.40" font-size="17" font-weight="bold" textLength="17.02" lengthAdjust="spacingAndGlyphs">41</text>
<path d="M63 1206 H93.6 V1192 H581.5 V1187.3 M83 1228.5 H106.5 V1196.8 H683.5 V1187.3 M89.4 1251.6 H120 V1201.6 H752.5 V1187.3 M149 1214.4 V1206.6 H806.5 V1187.3 M186.6 1248 H213 V1211.4 H843 V1187.3 M870.5 1187.3 V1196 H988.5 V1187.3 M941 1196 V1246 H927.5" fill="none" stroke="#8c8c8c" stroke-width="1.1"/>
<text x="21.46" y="1210.60" font-size="18" textLength="30.57" lengthAdjust="spacingAndGlyphs">Italy</text>
<text x="21.61" y="1233.40" font-size="18" textLength="52.89" lengthAdjust="spacingAndGlyphs">Poland</text>
<text x="20.70" y="1256.00" font-size="18" textLength="58.05" lengthAdjust="spacingAndGlyphs">Ukraine</text>
<text x="135.63" y="1233.40" font-size="18" textLength="61.37" lengthAdjust="spacingAndGlyphs">Bulgaria</text>
<text x="136.24" y="1254.00" font-size="18" textLength="42.85" lengthAdjust="spacingAndGlyphs">Spain</text>
<text x="243.92" y="1234.20" font-size="18" textLength="68.05" lengthAdjust="spacingAndGlyphs">Denmark</text>
<text x="322.03" y="1234.20" font-size="18" font-weight="bold" textLength="9.96" lengthAdjust="spacingAndGlyphs">7</text>
<text x="246.86" y="1255.80" font-size="18" textLength="59.14" lengthAdjust="spacingAndGlyphs">Georgia</text>
<text x="310.95" y="1255.80" font-size="18" font-weight="bold" textLength="9.95" lengthAdjust="spacingAndGlyphs">5</text>
<text x="246.31" y="1276.20" font-size="18" textLength="86.37" lengthAdjust="spacingAndGlyphs">El Salvador</text>
<text x="337.38" y="1276.20" font-size="18" font-weight="bold" textLength="9.39" lengthAdjust="spacingAndGlyphs">5</text>
<text x="380.34" y="1234.20" font-size="18" textLength="63.16" lengthAdjust="spacingAndGlyphs">Slovakia</text>
<text x="448.56" y="1234.20" font-size="18" font-weight="bold" textLength="8.72" lengthAdjust="spacingAndGlyphs">4</text>
<text x="379.71" y="1254.10" font-size="18" textLength="67.89" lengthAdjust="spacingAndGlyphs">Romania</text>
<text x="451.99" y="1254.10" font-size="18" font-weight="bold" textLength="9.96" lengthAdjust="spacingAndGlyphs">3</text>
<text x="379.73" y="1275.00" font-size="18" textLength="44.57" lengthAdjust="spacingAndGlyphs">Latvia</text>
<text x="429.18" y="1275.00" font-size="18" font-weight="bold" textLength="10.18" lengthAdjust="spacingAndGlyphs">3</text>
<text x="499.07" y="1235.40" font-size="18" textLength="64.13" lengthAdjust="spacingAndGlyphs">Australia</text>
<text x="567.31" y="1235.40" font-size="18" font-weight="bold" textLength="11.09" lengthAdjust="spacingAndGlyphs">2</text>
<text x="497.73" y="1254.60" font-size="18" textLength="55.87" lengthAdjust="spacingAndGlyphs">Estonia</text>
<text x="559.00" y="1254.60" font-size="18" font-weight="bold" textLength="9.70" lengthAdjust="spacingAndGlyphs">2</text>
<text x="498.72" y="1274.50" font-size="18" textLength="64.36" lengthAdjust="spacingAndGlyphs">Thailand</text>
<text x="566.64" y="1274.50" font-size="18" font-weight="bold" textLength="10.51" lengthAdjust="spacingAndGlyphs">2</text>
<text x="609.11" y="1235.40" font-size="18" textLength="91.51" lengthAdjust="spacingAndGlyphs">Netherlands</text>
<text x="704.11" y="1235.40" font-size="18" font-weight="bold" textLength="11.09" lengthAdjust="spacingAndGlyphs">2</text>
<text x="610.47" y="1254.60" font-size="18" textLength="79.83" lengthAdjust="spacingAndGlyphs">Azerbaijan</text>
<text x="694.32" y="1254.60" font-size="18" font-weight="bold" textLength="7.77" lengthAdjust="spacingAndGlyphs">1</text>
<text x="609.64" y="1274.50" font-size="18" textLength="88.82" lengthAdjust="spacingAndGlyphs">Czech Rep.</text>
<text x="702.22" y="1274.50" font-size="18" font-weight="bold" textLength="7.77" lengthAdjust="spacingAndGlyphs">1</text>
<text x="750.11" y="1235.80" font-size="18" textLength="88.59" lengthAdjust="spacingAndGlyphs">Kazakhstan</text>
<text x="844.00" y="1235.80" font-size="18" font-weight="bold" textLength="7.05" lengthAdjust="spacingAndGlyphs">1</text>
<text x="750.11" y="1255.00" font-size="18" textLength="63.82" lengthAdjust="spacingAndGlyphs">Hungary</text>
<text x="820.84" y="1255.00" font-size="18" font-weight="bold" textLength="6.69" lengthAdjust="spacingAndGlyphs">1</text>
<text x="750.74" y="1275.00" font-size="18" textLength="65.26" lengthAdjust="spacingAndGlyphs">S. Korea</text>
<text x="821.60" y="1275.00" font-size="18" font-weight="bold" textLength="7.05" lengthAdjust="spacingAndGlyphs">1</text>
<text x="882.12" y="1236.00" font-size="18" textLength="21.52" lengthAdjust="spacingAndGlyphs">Fiji</text>
<text x="910.26" y="1236.00" font-size="18" font-weight="bold" textLength="6.57" lengthAdjust="spacingAndGlyphs">1</text>
<text x="15.60" y="1312.00" font-size="15" font-style="italic" textLength="232.68" lengthAdjust="spacingAndGlyphs">Sources: Iraq Body Count, icasualties</text>
<circle cx="906.50" cy="1307.20" r="0.85" fill="#f47b20"/><circle cx="905.50" cy="1309.60" r="0.85" fill="#f47b20"/><circle cx="903.10" cy="1310.60" r="0.85" fill="#f47b20"/><circle cx="900.70" cy="1309.60" r="0.85" fill="#f47b20"/><circle cx="899.70" cy="1307.20" r="0.85" fill="#f47b20"/><circle cx="900.70" cy="1304.80" r="0.85" fill="#f47b20"/><circle cx="903.10" cy="1303.80" r="0.85" fill="#f47b20"/><circle cx="905.50" cy="1304.80" r="0.85" fill="#f47b20"/><circle cx="908.33" cy="1308.54" r="1.05" fill="#f47b20"/><circle cx="906.96" cy="1310.97" r="1.05" fill="#f47b20"/><circle cx="904.56" cy="1312.40" r="1.05" fill="#f47b20"/><circle cx="901.76" cy="1312.43" r="1.05" fill="#f47b20"/><circle cx="899.33" cy="1311.06" r="1.05" fill="#f47b20"/><circle cx="897.90" cy="1308.66" r="1.05" fill="#f47b20"/><circle cx="897.87" cy="1305.86" r="1.05" fill="#f47b20"/><circle cx="899.24" cy="1303.43" r="1.05" fill="#f47b20"/><circle cx="901.64" cy="1302.00" r="1.05" fill="#f47b20"/><circle cx="904.44" cy="1301.97" r="1.05" fill="#f47b20"/><circle cx="906.87" cy="1303.34" r="1.05" fill="#f47b20"/><circle cx="908.30" cy="1305.74" r="1.05" fill="#f47b20"/><circle cx="909.59" cy="1310.75" r="1.05" fill="#f47b20"/><circle cx="907.74" cy="1312.96" r="1.05" fill="#f47b20"/><circle cx="905.18" cy="1314.30" r="1.05" fill="#f47b20"/><circle cx="902.31" cy="1314.56" r="1.05" fill="#f47b20"/><circle cx="899.55" cy="1313.69" r="1.05" fill="#f47b20"/><circle cx="897.34" cy="1311.84" r="1.05" fill="#f47b20"/><circle cx="896.00" cy="1309.28" r="1.05" fill="#f47b20"/><circle cx="895.74" cy="1306.41" r="1.05" fill="#f47b20"/><circle cx="896.61" cy="1303.65" r="1.05" fill="#f47b20"/><circle cx="898.46" cy="1301.44" r="1.05" fill="#f47b20"/><circle cx="901.02" cy="1300.10" r="1.05" fill="#f47b20"/><circle cx="903.89" cy="1299.84" r="1.05" fill="#f47b20"/><circle cx="906.65" cy="1300.71" r="1.05" fill="#f47b20"/><circle cx="908.86" cy="1302.56" r="1.05" fill="#f47b20"/><circle cx="910.20" cy="1305.12" r="1.05" fill="#f47b20"/><circle cx="910.46" cy="1307.99" r="1.05" fill="#f47b20"/><circle cx="909.90" cy="1313.54" r="0.9" fill="#f47b20"/><circle cx="907.61" cy="1315.33" r="0.9" fill="#f47b20"/><circle cx="904.88" cy="1316.33" r="0.9" fill="#f47b20"/><circle cx="901.97" cy="1316.43" r="0.9" fill="#f47b20"/><circle cx="899.17" cy="1315.63" r="0.9" fill="#f47b20"/><circle cx="896.76" cy="1314.00" r="0.9" fill="#f47b20"/><circle cx="894.97" cy="1311.71" r="0.9" fill="#f47b20"/><circle cx="893.97" cy="1308.98" r="0.9" fill="#f47b20"/><circle cx="893.87" cy="1306.07" r="0.9" fill="#f47b20"/><circle cx="894.67" cy="1303.27" r="0.9" fill="#f47b20"/><circle cx="896.30" cy="1300.86" r="0.9" fill="#f47b20"/><circle cx="898.59" cy="1299.07" r="0.9" fill="#f47b20"/><circle cx="901.32" cy="1298.07" r="0.9" fill="#f47b20"/><circle cx="904.23" cy="1297.97" r="0.9" fill="#f47b20"/><circle cx="907.03" cy="1298.77" r="0.9" fill="#f47b20"/><circle cx="909.44" cy="1300.40" r="0.9" fill="#f47b20"/><circle cx="911.23" cy="1302.69" r="0.9" fill="#f47b20"/><circle cx="912.23" cy="1305.42" r="0.9" fill="#f47b20"/><circle cx="912.33" cy="1308.33" r="0.9" fill="#f47b20"/><circle cx="911.53" cy="1311.13" r="0.9" fill="#f47b20"/><circle cx="909.04" cy="1316.46" r="0.62" fill="#f47b20"/><circle cx="906.45" cy="1317.68" r="0.62" fill="#f47b20"/><circle cx="903.62" cy="1318.19" r="0.62" fill="#f47b20"/><circle cx="900.76" cy="1317.95" r="0.62" fill="#f47b20"/><circle cx="898.06" cy="1316.98" r="0.62" fill="#f47b20"/><circle cx="895.70" cy="1315.34" r="0.62" fill="#f47b20"/><circle cx="893.84" cy="1313.14" r="0.62" fill="#f47b20"/><circle cx="892.62" cy="1310.55" r="0.62" fill="#f47b20"/><circle cx="892.11" cy="1307.72" r="0.62" fill="#f47b20"/><circle cx="892.35" cy="1304.86" r="0.62" fill="#f47b20"/><circle cx="893.32" cy="1302.16" r="0.62" fill="#f47b20"/><circle cx="894.96" cy="1299.80" r="0.62" fill="#f47b20"/><circle cx="897.16" cy="1297.94" r="0.62" fill="#f47b20"/><circle cx="899.75" cy="1296.72" r="0.62" fill="#f47b20"/><circle cx="902.58" cy="1296.21" r="0.62" fill="#f47b20"/><circle cx="905.44" cy="1296.45" r="0.62" fill="#f47b20"/><circle cx="908.14" cy="1297.42" r="0.62" fill="#f47b20"/><circle cx="910.50" cy="1299.06" r="0.62" fill="#f47b20"/><circle cx="912.36" cy="1301.26" r="0.62" fill="#f47b20"/><circle cx="913.58" cy="1303.85" r="0.62" fill="#f47b20"/><circle cx="914.09" cy="1306.68" r="0.62" fill="#f47b20"/><circle cx="913.85" cy="1309.54" r="0.62" fill="#f47b20"/><circle cx="912.88" cy="1312.24" r="0.62" fill="#f47b20"/><circle cx="911.24" cy="1314.60" r="0.62" fill="#f47b20"/>
<text x="919.21" y="1312.60" font-size="15.5" font-weight="bold" textLength="70.56" lengthAdjust="spacingAndGlyphs" fill="#6a6b6d">REUTERS</text>
<g filter="url(#mapsh)">
<path d="M657.5 926.5 L686.0 910.4 L715.4 888.8 L716.6 881.0 L717.2 871.4 L717.8 863.0 L717.2 854.6 L719.0 848.0 L722.0 845.6 L728.0 844.4 L734.0 841.4 L741.2 834.2 L746.0 828.2 L749.6 825.8 L755.6 826.4 L760.4 825.2 L764.0 824.6 L771.2 826.4 L776.0 828.2 L778.4 827.0 L780.8 830.6 L782.0 834.2 L785.6 832.4 L790.4 830.6 L794.0 831.8 L796.4 837.8 L798.8 843.8 L800.0 849.8 L802.4 853.4 L806.0 855.8 L809.6 860.6 L812.0 863.0 L816.8 865.4 L824.0 866.6 L828.8 867.8 L828.2 870.2 L824.0 871.4 L822.8 877.4 L821.6 883.4 L818.5 888.5 L817.5 894.2 L814.4 899.0 L810.8 901.4 L809.6 906.2 L812.0 913.4 L814.4 920.6 L818.0 926.6 L821.6 930.2 L826.4 938.0 L831.2 944.0 L837.2 948.8 L843.2 952.4 L850.4 954.8 L855.2 958.4 L858.8 961.0 L864.0 969.6 L866.4 979.2 L865.2 988.8 L864.0 994.8 L864.0 999.6 L871.2 1000.8 L872.4 1012.8 L874.8 1016.4 L882.0 1024.8 L885.6 1028.4 L879.6 1027.2 L873.6 1024.8 L868.8 1024.8 L856.8 1026.0 L852.0 1029.6 L848.4 1036.8 L844.8 1044.0 L840.0 1050.0 L838.8 1051.2 L828.0 1052.4 L810.0 1051.8 L798.0 1048.8 L787.2 1044.0 L780.0 1039.2 L776.0 1034.0 L751.0 1011.5 L740.0 1002.8 L667.0 961.3 L660.5 957.5 Z" fill="#f39a7b" stroke="#fff" stroke-width="2.4" stroke-linejoin="round"/>
</g>
<path d="M657.5 926.5 L686.0 910.4 L715.4 888.8 L716.6 881.0 L717.2 871.4 L717.8 863.0 L717.2 854.6 L719.0 848.0 L722.0 845.6 L728.0 844.4 L734.0 841.4 L741.2 834.2 L746.0 828.2 L749.6 825.8 L755.6 826.4 L760.4 825.2 L764.0 824.6 L771.2 826.4 L776.0 828.2 L778.4 827.0 L780.8 830.6 L782.0 834.2 L785.6 832.4 L790.4 830.6 L794.0 831.8 L796.4 837.8 L798.8 843.8 L800.0 849.8 L802.4 853.4 L806.0 855.8 L809.6 860.6 L812.0 863.0 L816.8 865.4 L824.0 866.6 L828.8 867.8 L828.2 870.2 L824.0 871.4 L822.8 877.4 L821.6 883.4 L818.5 888.5 L817.5 894.2 L814.4 899.0 L810.8 901.4 L809.6 906.2 L812.0 913.4 L814.4 920.6 L818.0 926.6 L821.6 930.2 L826.4 938.0 L831.2 944.0 L837.2 948.8 L843.2 952.4 L850.4 954.8 L855.2 958.4 L858.8 961.0 L864.0 969.6 L866.4 979.2 L865.2 988.8 L864.0 994.8 L864.0 999.6 L871.2 1000.8 L872.4 1012.8 L874.8 1016.4 L882.0 1024.8 L885.6 1028.4 L879.6 1027.2 L873.6 1024.8 L868.8 1024.8 L856.8 1026.0 L852.0 1029.6 L848.4 1036.8 L844.8 1044.0 L840.0 1050.0 L838.8 1051.2 L828.0 1052.4 L810.0 1051.8 L798.0 1048.8 L787.2 1044.0 L780.0 1039.2 L776.0 1034.0 L751.0 1011.5 L740.0 1002.8 L667.0 961.3 L660.5 957.5 Z" fill="#f39a7b"/>
<path d="M743.6 833.0 L750.0 840.2 L755.6 839.0 L760.4 835.4 L766.0 838.0 L772.0 837.0 L778.0 841.0 L782.0 842.6 L786.0 838.0" fill="none" stroke="#fff" stroke-width="1.2"/>
<path d="M782.0 842.6 L776.0 849.8 L770.0 857.0 L765.2 863.0 L764.0 869.0 L765.2 875.0" fill="none" stroke="#fff" stroke-width="1.2"/>
<path d="M796.4 845.0 L791.0 852.0 L792.0 860.0 L797.0 866.0 L800.0 868.0" fill="none" stroke="#fff" stroke-width="1.2"/>
<path d="M800.0 868.0 L800.5 880.0 L798.8 891.8" fill="none" stroke="#fff" stroke-width="1.2"/>
<path d="M771.2 970.4 L778.0 967.0 L785.6 966.0" fill="none" stroke="#fff" stroke-width="1.2"/>
<path d="M788.0 970.4 L789.0 986.0 L794.0 992.0 L788.0 1004.0 L782.0 1016.0 L776.0 1030.4 L775.0 1034.0" fill="none" stroke="#fff" stroke-width="1.2"/>
<path d="M803.6 962.0 L809.6 968.0 L816.8 972.8 L819.2 977.6 L834.0 979.2" fill="none" stroke="#fff" stroke-width="1.2"/>
<path d="M789.0 976.0 L795.0 982.0 L804.0 982.8 L819.6 984.0 L818.4 993.6 L817.2 1005.6 L834.0 1009.2 L840.0 1014.0" fill="none" stroke="#fff" stroke-width="1.2"/>
<path d="M826.4 938.0 L833.6 950.0 L834.8 962.0 L833.6 971.6 L836.0 980.0 L842.0 992.0 L848.0 998.0 L853.2 996.0" fill="none" stroke="#fff" stroke-width="1.2"/>
<path d="M657.5 926.5 L686.0 910.4 L715.4 888.8 L722.0 890.0 L731.6 893.0 L740.0 894.2 L744.2 893.0 L744.2 901.4 L752.0 902.0 L755.0 906.2 L756.5 913.4 L760.0 920.0 L766.0 925.0 L772.0 927.0 L778.4 929.6 L782.0 932.0 L783.2 936.8 L774.8 938.6 L779.6 941.6 L780.8 950.0 L771.2 950.6 L759.2 958.4 L771.2 970.4 L764.0 977.6 L759.2 987.2 L755.6 998.0 L751.0 1011.5 L740.0 1002.8 L667.0 961.3 L660.5 957.5 Z" fill="#a81a20" stroke="#fff" stroke-width="1.2" stroke-linejoin="round"/>
<path d="M772.4 869.0 L779.6 867.8 L788.0 866.6 L792.8 867.8 L793.4 875.0 L792.8 882.2 L791.6 887.0 L788.0 891.8 L785.6 897.8 L779.6 893.0 L772.4 889.0 L765.2 885.5 L764.0 880.0 L767.6 872.6 Z" fill="#ed1c24" stroke="#fff" stroke-width="1.2" stroke-linejoin="round"/>
<path d="M744.2 890.0 L755.6 889.4 L755.0 875.0 L758.0 873.8 L762.8 873.8 L764.0 880.0 L765.2 885.5 L772.4 889.0 L779.6 893.0 L785.6 897.8 L788.0 891.8 L791.6 887.0 L792.8 882.2 L796.4 887.0 L798.8 891.8 L794.0 899.0 L790.4 906.2 L788.0 913.4 L786.8 920.6 L785.6 926.6 L784.4 932.6 L782.0 932.0 L778.4 929.6 L772.0 927.0 L766.0 925.0 L760.0 920.0 L756.5 913.4 L755.0 906.2 L752.0 902.0 L744.2 901.4 Z" fill="#ed1c24" stroke="#fff" stroke-width="1.2" stroke-linejoin="round"/>
<path d="M798.8 891.8 L803.6 894.2 L808.4 896.6 L812.0 899.0 L816.5 889.0 L818.2 890.0 L817.5 894.2 L814.4 899.0 L810.8 901.4 L809.6 906.2 L812.0 913.4 L814.4 920.6 L818.0 926.6 L821.6 930.2 L824.5 935.0 L818.0 936.8 L812.0 944.0 L791.6 942.8 L790.5 939.0 L788.0 935.0 L784.4 932.6 L785.6 926.6 L786.8 920.6 L788.0 913.4 L790.4 906.2 L794.0 899.0 Z" fill="#ed1c24" stroke="#fff" stroke-width="1.2" stroke-linejoin="round"/>
<path d="M779.6 941.6 L786.0 940.5 L790.5 939.0 L791.6 942.8 L790.4 947.6 L794.0 952.4 L798.8 956.0 L802.4 959.6 L803.6 962.0 L796.4 968.0 L792.8 969.2 L788.0 970.4 L785.6 968.0 L784.4 959.6 L782.0 953.6 L780.8 948.8 Z" fill="#ed1c24" stroke="#fff" stroke-width="1.2" stroke-linejoin="round"/>
<path d="M783.2 933.0 L787.0 931.5 L790.5 933.5 L790.5 939.0 L786.0 940.5 L783.5 938.0 Z" fill="#a81a20" stroke="#fff" stroke-width="1.2" stroke-linejoin="round"/>
<path d="M840.0 1050.0 L838.8 1032.0 L840.0 1014.0 L852.0 1010.4 L853.2 996.0 L858.0 993.6 L864.0 994.8 L864.0 999.6 L871.2 1000.8 L872.4 1012.8 L874.8 1016.4 L882.0 1024.8 L885.6 1028.4 L879.6 1027.2 L873.6 1024.8 L868.8 1024.8 L856.8 1026.0 L852.0 1029.6 L848.4 1036.8 L844.8 1044.0 Z" fill="#ed1c24" stroke="#fff" stroke-width="1.2" stroke-linejoin="round"/>
<path d="M657.5 926.5 L686.0 910.4 L715.4 888.8 L716.6 881.0 L717.2 871.4 L717.8 863.0 L717.2 854.6 L719.0 848.0 L722.0 845.6 L728.0 844.4 L734.0 841.4 L741.2 834.2 L746.0 828.2 L749.6 825.8 L755.6 826.4 L760.4 825.2 L764.0 824.6 L771.2 826.4 L776.0 828.2 L778.4 827.0 L780.8 830.6 L782.0 834.2 L785.6 832.4 L790.4 830.6 L794.0 831.8 L796.4 837.8 L798.8 843.8 L800.0 849.8 L802.4 853.4 L806.0 855.8 L809.6 860.6 L812.0 863.0 L816.8 865.4 L824.0 866.6 L828.8 867.8 L828.2 870.2 L824.0 871.4 L822.8 877.4 L821.6 883.4 L818.5 888.5 L817.5 894.2 L814.4 899.0 L810.8 901.4 L809.6 906.2 L812.0 913.4 L814.4 920.6 L818.0 926.6 L821.6 930.2 L826.4 938.0 L831.2 944.0 L837.2 948.8 L843.2 952.4 L850.4 954.8 L855.2 958.4 L858.8 961.0 L864.0 969.6 L866.4 979.2 L865.2 988.8 L864.0 994.8 L864.0 999.6 L871.2 1000.8 L872.4 1012.8 L874.8 1016.4 L882.0 1024.8 L885.6 1028.4 L879.6 1027.2 L873.6 1024.8 L868.8 1024.8 L856.8 1026.0 L852.0 1029.6 L848.4 1036.8 L844.8 1044.0 L840.0 1050.0 L838.8 1051.2 L828.0 1052.4 L810.0 1051.8 L798.0 1048.8 L787.2 1044.0 L780.0 1039.2 L776.0 1034.0 L751.0 1011.5 L740.0 1002.8 L667.0 961.3 L660.5 957.5 Z" fill="none" stroke="#fff" stroke-width="1.6" stroke-linejoin="round"/>
<path d="M703 879.6 H778.2" fill="none" stroke="#fff" stroke-width="4.0" stroke-linejoin="miter"/><path d="M703 879.6 H778.2" fill="none" stroke="#231f20" stroke-width="1.4"/><circle cx="778.2" cy="879.6" r="3.9" fill="#fff"/><circle cx="778.2" cy="879.6" r="2.4" fill="#231f20"/>
<path d="M778.2 909.6 L834.2 838.9 H893.7" fill="none" stroke="#fff" stroke-width="4.0" stroke-linejoin="miter"/><path d="M778.2 909.6 L834.2 838.9 H893.7" fill="none" stroke="#231f20" stroke-width="1.4"/><circle cx="778.2" cy="909.6" r="3.9" fill="#fff"/><circle cx="778.2" cy="909.6" r="2.4" fill="#231f20"/>
<path d="M806.2 920.1 L834.2 885.1 H893.7" fill="none" stroke="#fff" stroke-width="4.0" stroke-linejoin="miter"/><path d="M806.2 920.1 L834.2 885.1 H893.7" fill="none" stroke="#231f20" stroke-width="1.4"/><circle cx="806.2" cy="920.1" r="3.9" fill="#fff"/><circle cx="806.2" cy="920.1" r="2.4" fill="#231f20"/>
<path d="M791.5 932.7 H893.7" fill="none" stroke="#fff" stroke-width="4.0" stroke-linejoin="miter"/><path d="M791.5 932.7 H893.7" fill="none" stroke="#231f20" stroke-width="1.4"/><circle cx="791.5" cy="932.7" r="3.9" fill="#fff"/><circle cx="791.5" cy="932.7" r="2.4" fill="#231f20"/>
<path d="M791.3 957 L806.3 973.8 H893.7" fill="none" stroke="#fff" stroke-width="4.0" stroke-linejoin="miter"/><path d="M791.3 957 L806.3 973.8 H893.7" fill="none" stroke="#231f20" stroke-width="1.4"/><circle cx="791.3" cy="957" r="3.9" fill="#fff"/><circle cx="791.3" cy="957" r="2.4" fill="#231f20"/>
<path d="M865 1020 H893.7" fill="none" stroke="#fff" stroke-width="4.0" stroke-linejoin="miter"/><path d="M865 1020 H893.7" fill="none" stroke="#231f20" stroke-width="1.4"/><circle cx="865" cy="1020" r="3.9" fill="#fff"/><circle cx="865" cy="1020" r="2.4" fill="#231f20"/>
<text x="854.74" y="803.60" font-size="20.5" font-weight="bold" textLength="130.00" lengthAdjust="spacingAndGlyphs">BY PROVINCE</text>
<text x="901.56" y="834.10" font-size="18" textLength="81.60" lengthAdjust="spacingAndGlyphs">Salahuddin</text>
<text x="902.05" y="853.80" font-size="18" font-weight="bold" textLength="27.99" lengthAdjust="spacingAndGlyphs">437</text>
<text x="900.89" y="882.20" font-size="18" textLength="47.71" lengthAdjust="spacingAndGlyphs">Diyala</text>
<text x="901.70" y="901.80" font-size="18" font-weight="bold" textLength="28.82" lengthAdjust="spacingAndGlyphs">266</text>
<text x="900.88" y="930.00" font-size="18" textLength="69.54" lengthAdjust="spacingAndGlyphs">Baghdad</text>
<text x="901.24" y="949.70" font-size="18" font-weight="bold" textLength="41.92" lengthAdjust="spacingAndGlyphs">1,421</text>
<text x="900.86" y="978.20" font-size="18" textLength="39.12" lengthAdjust="spacingAndGlyphs">Babil</text>
<text x="901.72" y="997.20" font-size="18" font-weight="bold" textLength="28.02" lengthAdjust="spacingAndGlyphs">217</text>
<text x="901.83" y="1026.20" font-size="18" textLength="43.77" lengthAdjust="spacingAndGlyphs">Basra</text>
<text x="902.12" y="1045.80" font-size="18" font-weight="bold" textLength="28.49" lengthAdjust="spacingAndGlyphs">156</text>
<text x="646.61" y="886.00" font-size="18" textLength="47.17" lengthAdjust="spacingAndGlyphs">Kirkuk</text>
<text x="646.92" y="905.40" font-size="18" font-weight="bold" textLength="28.49" lengthAdjust="spacingAndGlyphs">103</text>
<text x="695.97" y="941.30" font-size="18" textLength="44.11" lengthAdjust="spacingAndGlyphs" fill="#fff">Anbar</text>
<text x="695.56" y="960.80" font-size="18" font-weight="bold" textLength="41.40" lengthAdjust="spacingAndGlyphs" fill="#fff">1,335</text>
<rect x="660.6" y="1004.5" width="14.2" height="14.2" fill="#f39a7b"/>
<text x="681.79" y="1017.30" font-size="16.5" font-style="italic" textLength="32.54" lengthAdjust="spacingAndGlyphs">0-99</text>
<rect x="660.6" y="1023.9" width="14.2" height="14.2" fill="#ed1c24"/>
<text x="683.40" y="1036.00" font-size="16.5" font-style="italic" textLength="56.92" lengthAdjust="spacingAndGlyphs">100-499</text>
<rect x="660.6" y="1043.2" width="14.2" height="14.2" fill="#a81a20"/>
<text x="682.15" y="1054.70" font-size="16.5" font-style="italic" textLength="35.50" lengthAdjust="spacingAndGlyphs">500+</text>
<rect x="0" y="0" width="1000" height="2.4" fill="#c8c9cb"/>
<rect x="0" y="0" width="2" height="1320" fill="#c8c9cb"/>
<rect x="997.3" y="0" width="2.7" height="1320" fill="#c8c9cb"/>
</svg></body></html>
